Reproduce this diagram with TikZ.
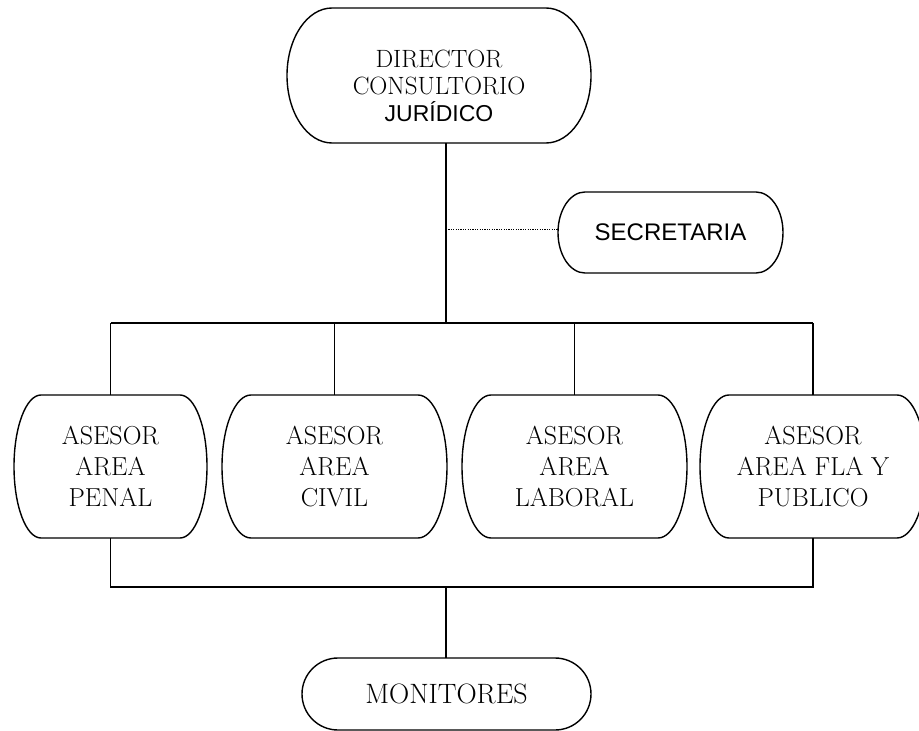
\documentclass[tikz,border=0pt]{standalone}
\usepackage{fontspec}
\newfontfamily\arialfont{Liberation Sans}
\tikzset{
    box/.style={inner sep=0pt, outer sep=0pt, align=center, text=black,
        font=\fontsize{26}{31}\selectfont},
    rim/.style={line width=1.4pt, line join=round},
    link/.style={line width=1.4pt},
    dots/.style={line width=1pt, dash pattern=on 1.2pt off 1.2pt}
}
% Outline with half-ellipse ends around a named node.
\newcommand\rimbox[3]{%
    \draw[rim] ([xshift=#2pt]#1.north west) -- ([xshift=-#2pt]#1.north east)
        arc[start angle=90, end angle=-90, x radius=#2pt, y radius=#3pt]
        -- ([xshift=#2pt]#1.south west)
        arc[start angle=270, end angle=90, x radius=#2pt, y radius=#3pt] -- cycle;}
\begin{document}
\begin{tikzpicture}[x=1pt, y=1pt]
                        \useasboundingbox (0,0) rectangle (919,-731);

                        \coordinate (T) at (446,-323);
                        \coordinate (Q) at (446,-229);
                        \coordinate (B) at (446,-587);

                        \node[box, minimum width=304, minimum height=135,
                            font=\fontsize{25}{27}\selectfont] (D) at (439,-75.5)
                            {\rule{0pt}{38pt}DIRECTOR\\CONSULTORIO\\{\arialfont\fontsize{23}{27}\selectfont JURÍDICO}};
                        \node[box, minimum width=225, minimum height=81,
                            font=\arialfont\fontsize{24}{31}\selectfont] (S) at (670.5,-232.5) {SECRETARIA};
                        \node[box, minimum width=193, minimum height=143] (P) at (110.5,-466.5) {ASESOR\\AREA\\PENAL};
                        \node[box, minimum width=225, minimum height=143] (C) at (334.5,-466.5) {ASESOR\\AREA\\CIVIL};
                        \node[box, minimum width=225, minimum height=143] (L) at (574.5,-466.5) {ASESOR\\AREA\\LABORAL};
                        \node[box, minimum width=226, minimum height=143] (F) at (813,-466.5) {ASESOR\\AREA FLA Y\\PUBLICO};
                        \node[box, minimum width=289, minimum height=72,
                            font=\fontsize{28}{31}\selectfont] (M) at (446.5,-694) {MONITORES};

                        % Draw the box outlines.
                        \rimbox{D}{45}{67.5}
                        \rimbox{S}{27}{40.5}
                        \rimbox{P}{27}{71.5}
                        \rimbox{C}{29}{71.5}
                        \rimbox{L}{29}{71.5}
                        \rimbox{F}{29}{71.5}
                        \rimbox{M}{36}{36}

                        % Director down to the upper bar.
                        \draw[link] (D.south -| T) -- (T);
                        \draw[dots] (Q) -- (Q -| S.west);
                        \draw[link] (P.north |- T) -- (F.north |- T);
                        \foreach \n in {P, C, L, F}
                            \draw[link] (\n.north) -- (\n.north |- T);

                        % Lower bar and the monitors.
                        \draw[link] (P.south) -- (P.south |- B) -- (F.south |- B) -- (F.south);
                        \draw[link] (B) -- (B |- M.north);

                    \end{tikzpicture}
\end{document}
